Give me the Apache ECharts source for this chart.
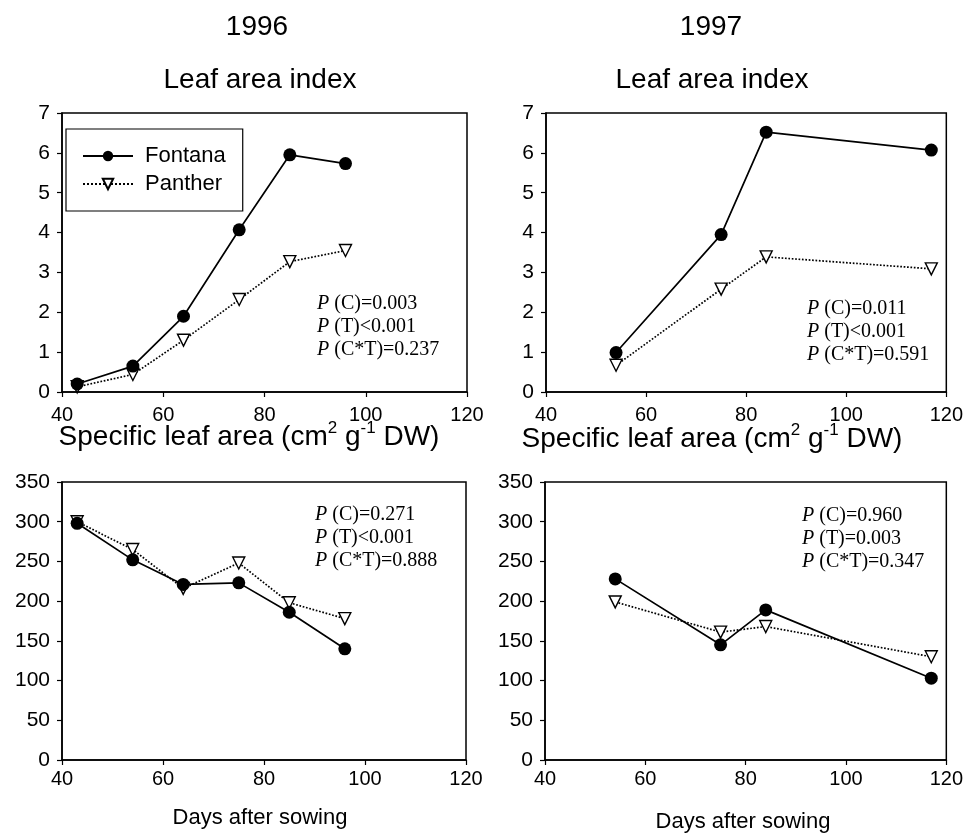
<!DOCTYPE html>
<html>
<head>
<meta charset="utf-8">
<script src="https://cdn.jsdelivr.net/npm/echarts@6/dist/echarts.min.js"></script>
<style>
  html, body { margin: 0; padding: 0; background: #fff; }
  #chart { width: 966px; height: 834px; }
</style>
</head>
<body>
<div id="chart"></div>
<script>
// days after sowing
const days96 = [43, 54, 64, 75, 85, 96]
const days97 = [54, 75, 84, 117]

// leaf area index
const lai96Fontana = [0.2, 0.65, 1.9, 4.07, 5.95, 5.73]
const lai96Panther = [0.13, 0.44, 1.3, 2.32, 3.27, 3.55]
const lai97Fontana = [0.99, 3.95, 6.52, 6.07]
const lai97Panther = [0.67, 2.58, 3.39, 3.09]

// specific leaf area
const sla96Fontana = [298, 252, 221, 223, 186, 140]
const sla96Panther = [300, 265, 216, 248, 198, 178]
const sla97Fontana = [228, 145, 189, 103]
const sla97Panther = [199, 161, 168, 130]

// p-values per panel
const pLai96 = ['(C)=0.003', '(T)<0.001', '(C*T)=0.237']
const pLai97 = ['(C)=0.011', '(T)<0.001', '(C*T)=0.591']
const pSla96 = ['(C)=0.271', '(T)<0.001', '(C*T)=0.888']
const pSla97 = ['(C)=0.960', '(T)=0.003', '(C*T)=0.347']

const SANS = "'Liberation Sans', Arial, sans-serif"
const SERIF = "'Liberation Serif', 'Times New Roman', serif"

const zip = (xs, ys) => xs.map((x, i) => [x, ys[i]])

function xAxisOf(gridIndex, margin) {
  return {
    type: 'value',
    gridIndex,
    min: 40,
    max: 120,
    interval: 20,
    splitLine: { show: false },
    axisLine: { lineStyle: { color: '#000', width: 1.5 } },
    axisTick: { length: 5, lineStyle: { color: '#000', width: 1.2 } },
    axisLabel: { color: '#000', fontFamily: SANS, fontSize: 20, margin }
  }
}

function yAxisOf(gridIndex, max, interval) {
  return {
    type: 'value',
    gridIndex,
    min: 0,
    max,
    interval,
    splitLine: { show: false },
    axisLine: { show: true, lineStyle: { color: '#000', width: 1.5 } },
    axisTick: { show: true, length: 5, lineStyle: { color: '#000', width: 1.2 } },
    axisLabel: { color: '#000', fontFamily: SANS, fontSize: 21, margin: 12 }
  }
}

function fontana(idx, data) {
  return {
    name: 'Fontana',
    type: 'line',
    xAxisIndex: idx,
    yAxisIndex: idx,
    data,
    symbol: 'circle',
    symbolSize: 13,
    itemStyle: { color: '#000' },
    lineStyle: { color: '#000', width: 1.7 },
    z: 3,
    animation: false
  }
}

function panther(idx, data) {
  return {
    name: 'Panther',
    type: 'line',
    xAxisIndex: idx,
    yAxisIndex: idx,
    data,
    symbol: 'triangle',
    symbolRotate: 180,
    symbolSize: 12,
    itemStyle: { color: '#fff', borderColor: '#000', borderWidth: 1.4 },
    lineStyle: { color: '#000', width: 1.7, type: 'dotted' },
    z: 2,
    animation: false
  }
}

function label(x, y, text, size, rich) {
  return {
    type: 'text',
    x,
    y,
    style: {
      text,
      font: size + 'px ' + SANS,
      fill: '#000',
      align: 'center',
      verticalAlign: 'middle',
      rich: rich || {}
    }
  }
}

function pText(x, y, lines) {
  return {
    type: 'text',
    x,
    y,
    style: {
      text: lines.map(l => '{i|P} ' + l).join('\n'),
      font: '20px ' + SERIF,
      fill: '#000',
      lineHeight: 23,
      align: 'left',
      verticalAlign: 'top',
      rich: {
        i: { fontStyle: 'italic', fontFamily: SERIF, fontSize: 20, lineHeight: 23 }
      }
    }
  }
}

const supRich = {
  s: { fontSize: 17, fontFamily: SANS, verticalAlign: 'top', lineHeight: 34 }
}
const slaTitle = 'Specific leaf area (cm{s|2} g{s|-1} DW)'

const chart = echarts.init(document.getElementById('chart'))

chart.setOption({
  backgroundColor: '#fff',
  animation: false,
  grid: [
    { left: 62, top: 113, width: 405, height: 279 },
    { left: 546, top: 113, width: 405, height: 279 },
    { left: 62, top: 482, width: 404, height: 278 },
    { left: 545, top: 482, width: 405, height: 278 }
  ].map(g => Object.assign(g, { show: true, borderColor: '#000', borderWidth: 1.5, backgroundColor: 'transparent' })),
  xAxis: [xAxisOf(0, 13), xAxisOf(1, 13), xAxisOf(2, 9), xAxisOf(3, 9)],
  yAxis: [yAxisOf(0, 7, 1), yAxisOf(1, 7, 1), yAxisOf(2, 350, 50), yAxisOf(3, 350, 50)],
  legend: {
    data: ['Fontana', 'Panther'],
    orient: 'vertical',
    left: 66,
    top: 129,
    width: 175,
    padding: [16, 17, 16, 16],
    itemGap: 6,
    itemWidth: 50,
    itemHeight: 13,
    borderColor: '#000',
    borderWidth: 1.2,
    textStyle: { color: '#000', fontFamily: SANS, fontSize: 22, lineHeight: 22, padding: [0, 0, 0, 7] }
  },
  series: [
    fontana(0, zip(days96, lai96Fontana)),
    panther(0, zip(days96, lai96Panther)),
    fontana(1, zip(days97, lai97Fontana)),
    panther(1, zip(days97, lai97Panther)),
    fontana(2, zip(days96, sla96Fontana)),
    panther(2, zip(days96, sla96Panther)),
    fontana(3, zip(days97, sla97Fontana)),
    panther(3, zip(days97, sla97Panther))
  ],
  graphic: [
    label(257, 27, '1996', 28),
    label(711, 27, '1997', 28),
    label(260, 80, 'Leaf area index', 28),
    label(712, 80, 'Leaf area index', 28),
    label(249, 437, slaTitle, 28, supRich),
    label(712, 439, slaTitle, 28, supRich),
    label(260, 818, 'Days after sowing', 22),
    label(743, 822, 'Days after sowing', 22),
    pText(317, 292, pLai96),
    pText(807, 297, pLai97),
    pText(315, 503, pSla96),
    pText(802, 504, pSla97)
  ]
})
</script>
</body>
</html>
